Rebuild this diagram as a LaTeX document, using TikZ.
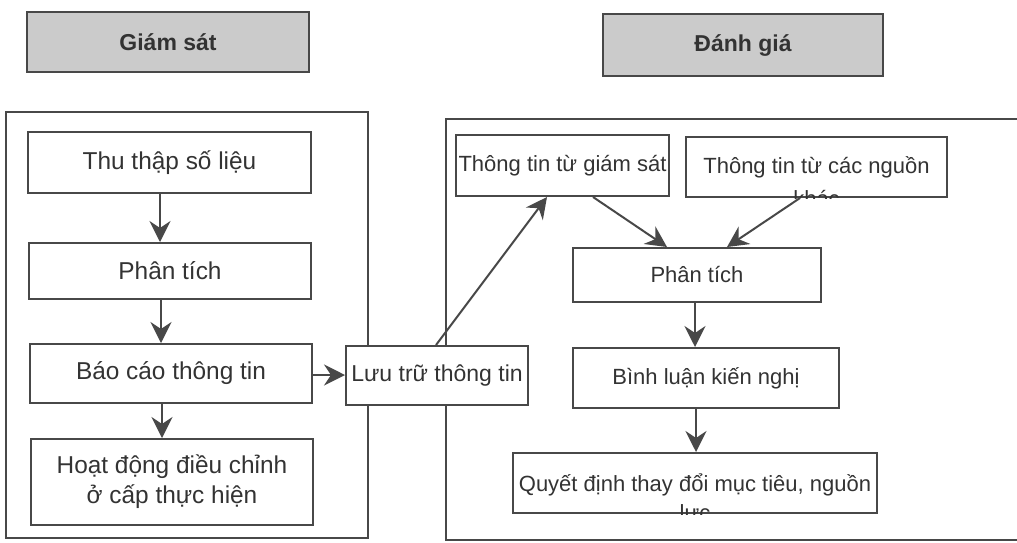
\documentclass[tikz,border=0pt]{standalone}
\usepackage{fontspec}
\setmainfont{Liberation Sans}
\usetikzlibrary{arrows.meta}
\definecolor{ink}{HTML}{333333}
\definecolor{rule}{HTML}{484848}
\definecolor{shade}{HTML}{CBCBCB}
\begin{document}
\begin{tikzpicture}[x=0.5pt,y=-0.5pt,
  every node/.style={inner sep=0pt, text=ink},
  sz/.style 2 args={minimum width=#1*0.5pt, minimum height=#2*0.5pt},
  hdr/.style={draw=rule, line width=1.3pt, fill=shade, font=\bfseries\fontsize{11.5}{13}\selectfont},
  box/.style={draw=rule, line width=1pt, fill=white},
  frame/.style={draw=rule, line width=1pt},
  lfont/.style={font=\fontsize{12.2}{15}\selectfont},
  mfont/.style={font=\fontsize{11.5}{14}\selectfont},
  rfont/.style={font=\fontsize{11}{14}\selectfont},
  arr/.style={draw=rule, line width=1pt, -{Stealth[length=10.5pt,width=10.5pt,inset=3.5pt]}}]
\useasboundingbox (0,0) rectangle (1017,542);
\clip (0,0) rectangle (1017,542);

% headers
\node[hdr, sz={282}{60}] (hm) at (168,42) {Giám sát};
\node[hdr, sz={280}{62}] (he) at (743,45) {Đánh giá};

% outer frames of the two stages
\draw[frame] (6,112) rectangle (368,538);
\draw[frame] (446,119) rectangle (1040,540);

% monitoring chain
\node[box, lfont, sz={283}{61}] (a1) at (169.5,162.5) {Thu thập số liệu};
\node[box, lfont, sz={282}{56}] (a2) at (170,271) {Phân tích};
\node[box, lfont, sz={282}{59}] (a3) at (171,373.5) {Báo cáo thông tin};
\node[box, lfont, sz={282}{86}, align=center] (a4) at (172,482) {Hoạt động điều chỉnh\\ở cấp thực hiện};

% storage
\node[box, mfont, sz={182}{59}] (st) at (437,375.5) {Lưu trữ thông tin};

% evaluation chain
\node[box, rfont, sz={213}{61}] (b1) at (562.5,165.5) {Thông tin từ giám sát};
\node[box, sz={261}{60}] (b2) at (816.5,167) {};
\node[box, rfont, sz={248}{54}] (b3) at (697,275) {Phân tích};
\node[box, rfont, sz={266}{60}] (b4) at (706,378) {Bình luận kiến nghị};
\node[box, sz={364}{60}] (b5) at (695,483) {};

% overflowing labels, cut by their boxes
\begin{scope}
  \clip (b2.south west) rectangle (b2.north east);
  \node[rfont, anchor=base, yshift=-3pt] (b2t1) at (b2.center) {Thông tin từ các nguồn};
  \node[rfont, anchor=base, yshift=-19.5pt] (b2t2) at (b2.center) {khác};
\end{scope}
\begin{scope}
  \clip (b5.south west) rectangle (b5.north east);
  \node[rfont, anchor=base, yshift=-4pt] (b5t1) at (b5.center) {Quyết định thay đổi mục tiêu, nguồn};
  \node[rfont, anchor=base, yshift=-18.5pt] (b5t2) at (b5.center) {lực};
\end{scope}

% connectors
\draw[arr] ([xshift=-4.75pt]a1.south) -- ([xshift=-4.75pt]a1.south |- a2.north);
\draw[arr] ([xshift=-4.5pt]a2.south) -- ([xshift=-4.5pt]a2.south |- a3.north);
\draw[arr] ([xshift=-4.5pt]a3.south) -- ([xshift=-4.5pt]a3.south |- a4.north);
\draw[arr] ([yshift=-0.75pt]a3.east) -- ([yshift=-0.75pt]a3.east -| st.west);
\draw[arr] ([xshift=-0.5pt]st.north) -- ([xshift=-7.75pt]b1.south);
\draw[arr] ([xshift=15.25pt]b1.south) -- ([xshift=-15pt]b3.north);
\draw[arr] ([xshift=-8.25pt]b2.south) -- ([xshift=15pt]b3.north);
\draw[arr] ([xshift=-1pt]b3.south) -- ([xshift=-1pt]b3.south |- b4.north);
\draw[arr] ([xshift=-5pt]b4.south) -- ([xshift=-5pt]b4.south |- b5.north);
\end{tikzpicture}
\end{document}
